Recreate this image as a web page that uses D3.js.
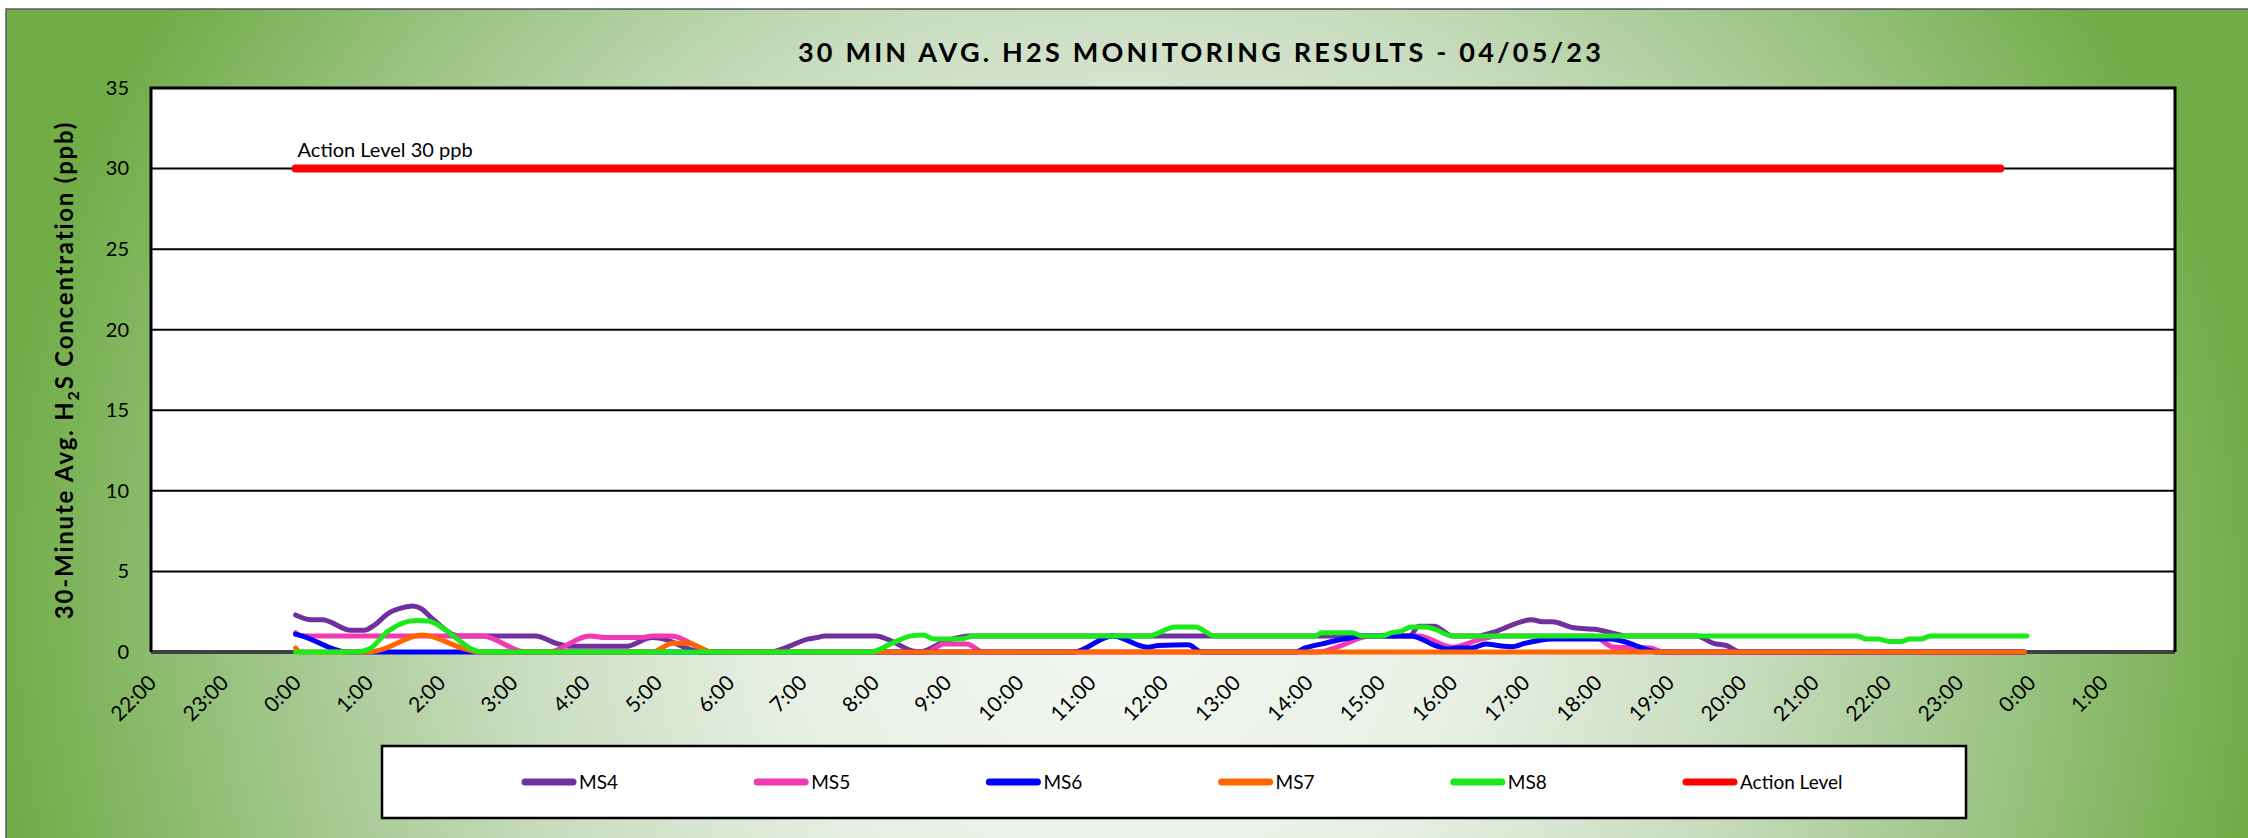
<!DOCTYPE html>
<html>
<head>
<meta charset="utf-8">
<script src="https://cdn.jsdelivr.net/npm/d3@7"></script>
<style>
  body { margin: 0; background: #fff; }
  svg { display: block; font-family: Lato, "Open Sans", sans-serif; }
</style>
</head>
<body>
<svg id="chart"></svg>
<script>
const W = 2248, H = 838;
const margin = { top: 88, right: 73, bottom: 186, left: 151 };
const width = W - margin.left - margin.right;
const height = H - margin.top - margin.bottom;

// minutes after midnight, value in ppb
const ms4 = [[0,2.3],[13,2.0],[22,2.0],[46,1.35],[57,1.35],[66,1.7],[77,2.4],[89,2.75],[97,2.85],[104,2.7],
  [113,2.1],[124,1.4],[130,1.1],[136,1.0],[199,1.0],[218,0.5],[230,0.35],[274,0.35],[296,0.9],[303,0.85],
  [327,0.18],[336,0],[394,0],[408,0.3],[425,0.8],[433,0.9],[439,1.0],[482,1.0],[491,0.8],[513,0.05],[518,0],
  [540,0.7],[560,1.0],[925,1.0],[932,1.6],[945,1.6],[960,1.0],[981,1.0],[993,1.2],[1026,2.0],[1035,1.88],
  [1043,1.88],[1061,1.5],[1080,1.4],[1097,1.1],[1104,1.0],[1163,1.0],[1177,0.53],[1188,0.39],[1199,0],[1435,0]];
const ms5 = [[0,1.2],[5,1.0],[155,1.0],[191,0],[210,0],[244,1.0],[257,0.9],[288,0.9],[296,1.0],[312,1.0],
  [346,0],[524,0],[538,0.5],[557,0.5],[571,0],[849,0],[868,0.4],[885,0.9],[892,1.0],[932,1.0],[960,0.3],
  [984,0.8],[998,1.0],[1077,1.0],[1094,0.3],[1124,0.25],[1136,0],[1435,0]];
const ms6 = [[0,1.1],[3,1.05],[43,0],[646,0],[678,1.0],[707,0.3],[716,0.4],[741,0.45],[752,0],[830,0],
  [838,0.25],[852,0.5],[863,0.7],[877,0.9],[885,1.0],[926,1.0],[946,0.4],[957,0.18],[965,0.25],[976,0.25],
  [988,0.5],[998,0.4],[1010,0.33],[1021,0.55],[1031,0.7],[1043,0.8],[1091,0.8],[1100,0.7],[1124,0.1],
  [1130,0],[1435,0]];
const ms7 = [[0,0.25],[4,0],[61,0],[69,0.1],[105,1.05],[141,0.18],[152,0],[296,0],[313,0.55],[326,0.55],
  [346,0],[1435,0]];
const ms8 = [[0,0],[50,0],[61,0.18],[77,1.3],[89,1.8],[100,1.96],[110,1.92],[122,1.5],[136,0.7],[146,0.18],
  [155,0],[477,0],[494,0.5],[511,1.0],[521,1.05],[530,0.8],[552,0.8],[563,1.0],[708,1.0],[730,1.55],
  [747,1.55],[763,1.0],[846,1.0],[852,1.2],[877,1.2],[885,1.0],[902,1.0],[910,1.2],[918,1.3],[926,1.55],
  [938,1.55],[946,1.4],[960,1.0],[1296,1.0],[1304,0.8],[1313,0.8],[1324,0.65],[1332,0.65],[1340,0.8],
  [1349,0.8],[1357,1.0],[1437,1.0]];
const actionLevel = [[0,30],[1415,30]];

const seriesNames = ["MS4", "MS5", "MS6", "MS7", "MS8", "Action Level"];
const seriesColors = ["#7030A0", "#F23AB4", "#0000FF", "#FF6600", "#1AEA1A", "#FF0000"];
const yTicks = [0, 5, 10, 15, 20, 25, 30, 35];
const xTicks = d3.range(-120, 1501, 60); // 22:00 ... 1:00

const svg = d3.select("#chart").attr("width", W).attr("height", H);

// background gradient
const grad = svg.append("defs").append("radialGradient")
  .attr("id", "bg")
  .attr("gradientUnits", "userSpaceOnUse")
  .attr("cx", 1127).attr("cy", 600).attr("r", 1130);
[[0, "#F4F7F3"], [0.3, "#E8F0E5"], [0.55, "#C8DCBE"], [0.8, "#98C27F"], [1, "#70AD47"]].forEach(s => {
  grad.append("stop").attr("offset", s[0]).attr("stop-color", s[1]);
});

svg.append("rect")
  .attr("x", 6).attr("y", 9)
  .attr("width", W).attr("height", H)
  .attr("fill", "url(#bg)")
  .attr("stroke", "#595959")
  .attr("stroke-width", 1.5);

svg.append("text")
  .attr("x", 1201).attr("y", 62)
  .attr("text-anchor", "middle")
  .attr("font-size", 27)
  .attr("font-weight", "bold")
  .attr("letter-spacing", 3.2)
  .attr("fill", "#000")
  .text("30 MIN AVG. H2S MONITORING RESULTS - 04/05/23");

const g = svg.append("g")
  .attr("transform", "translate(" + margin.left + "," + margin.top + ")");

g.append("rect").attr("width", width).attr("height", height).attr("fill", "#fff");

const x = d3.scaleLinear().domain([-120, 1560]).range([0, width]);
const y = d3.scaleLinear().domain([0, 35]).range([height, 0]);

// grid
g.selectAll(".grid")
  .data(yTicks.filter(d => d > 0 && d < 35))
  .join("line")
  .attr("x1", 0).attr("x2", width)
  .attr("y1", d => y(d)).attr("y2", d => y(d))
  .attr("stroke", "#000")
  .attr("stroke-width", 2);

// y axis
const yAxis = g.append("g")
  .call(d3.axisLeft(y).tickValues(yTicks).tickSize(0).tickPadding(22));
yAxis.select(".domain").remove();
yAxis.selectAll("text").attr("font-size", 20).attr("fill", "#000").attr("font-family", "Lato, sans-serif");

// x axis
const fmt = m => (((m / 60) % 24 + 24) % 24) + ":00";
const xAxis = g.append("g")
  .attr("transform", "translate(0," + height + ")")
  .call(d3.axisBottom(x).tickValues(xTicks).tickFormat(fmt).tickSize(0));
xAxis.select(".domain").remove();
xAxis.selectAll("text")
  .attr("font-size", 21)
  .attr("font-family", "Lato, sans-serif")
  .attr("fill", "#000")
  .attr("text-anchor", "end")
  .attr("x", 0).attr("y", 0).attr("dy", "0.35em")
  .attr("transform", "translate(1,27) rotate(-45)");

// bottom axis line
g.append("line")
  .attr("x1", 0).attr("x2", width)
  .attr("y1", height).attr("y2", height)
  .attr("stroke", "#404040")
  .attr("stroke-width", 4);

// series
const line = d3.line()
  .x(d => x(d[0]))
  .y(d => y(d[1]))
  .curve(d3.curveMonotoneX);

[ms4, ms5, ms6, ms7, ms8].forEach((data, i) => {
  g.append("path")
    .datum(data)
    .attr("fill", "none")
    .attr("stroke", seriesColors[i])
    .attr("stroke-width", 5)
    .attr("stroke-linejoin", "round")
    .attr("stroke-linecap", "round")
    .attr("d", line);
});

g.append("path")
  .datum(actionLevel)
  .attr("fill", "none")
  .attr("stroke", seriesColors[5])
  .attr("stroke-width", 8)
  .attr("stroke-linecap", "round")
  .attr("d", d3.line().x(d => x(d[0])).y(d => y(d[1])));

g.append("text")
  .attr("x", x(actionLevel[0][0]) + 2)
  .attr("y", y(30) - 12)
  .attr("font-size", 20)
  .attr("fill", "#000")
  .text("Action Level 30 ppb");

// plot frame (left, top, right)
g.append("path")
  .attr("d", "M0," + height + "V0H" + width + "V" + height)
  .attr("fill", "none")
  .attr("stroke", "#000")
  .attr("stroke-width", 3);

// y axis title
const yTitle = svg.append("text")
  .attr("transform", "translate(73,370) rotate(-90)")
  .attr("text-anchor", "middle")
  .attr("font-size", 24)
  .attr("font-weight", "bold")
  .attr("letter-spacing", 1.8)
  .attr("fill", "#000");
yTitle.append("tspan").text("30-Minute Avg. H");
yTitle.append("tspan").attr("font-size", 16).attr("dy", 6).text("2");
yTitle.append("tspan").attr("dy", -6).text("S Concentration (ppb)");

// legend
const legend = svg.append("g");
legend.append("rect")
  .attr("x", 382).attr("y", 746)
  .attr("width", 1584).attr("height", 72)
  .attr("fill", "#fff")
  .attr("stroke", "#000")
  .attr("stroke-width", 2.5);

const item = legend.selectAll(".item")
  .data(seriesNames)
  .join("g")
  .attr("transform", (d, i) => "translate(" + (522 + i * 232.2) + ",782)");
item.append("line")
  .attr("x1", 3).attr("x2", 51)
  .attr("stroke", (d, i) => seriesColors[i])
  .attr("stroke-width", 7)
  .attr("stroke-linecap", "round");
item.append("text")
  .attr("x", 57).attr("dy", "0.35em")
  .attr("font-size", 19)
  .attr("fill", "#000")
  .text(d => d);
</script>
</body>
</html>
